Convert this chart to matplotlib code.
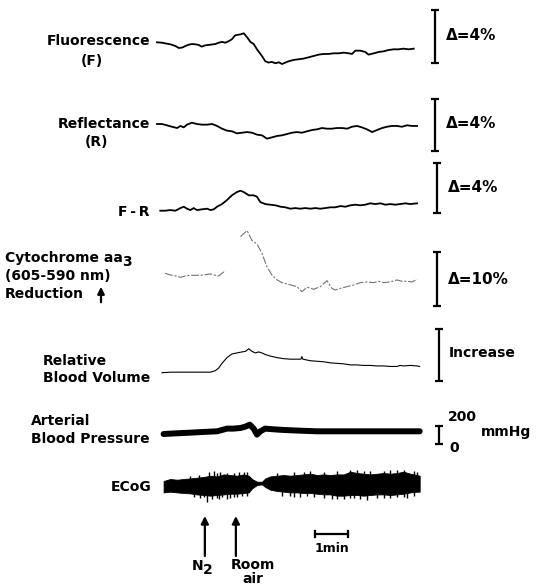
import numpy as np
import matplotlib
matplotlib.use("Agg")
import matplotlib.pyplot as plt
from matplotlib.transforms import blended_transform_factory

# -------------------- data (time in minutes from start of recording) --------------------
n2_time = 1.45
room_air_time = 2.39

# Fluorescence (F), % change
fluo_t = [0.00, 0.15, 0.25, 0.40, 0.56, 0.66, 0.76, 0.86, 0.96, 1.06, 1.16, 1.26, 1.36, 1.46,
          1.62, 1.77, 1.87, 1.97, 2.07, 2.17, 2.27, 2.37, 2.53, 2.63, 2.73, 2.83, 2.93, 3.03,
          3.18, 3.28, 3.38, 3.48, 3.59, 3.69, 3.79, 3.89, 3.99, 4.14, 4.29, 4.44, 4.60, 4.75,
          4.90, 5.05, 5.20, 5.35, 5.51, 5.66, 5.81, 5.91, 6.01, 6.16, 6.31, 6.41, 6.57, 6.72,
          6.87, 7.02, 7.17, 7.32, 7.47, 7.63, 7.78]
fluo_v = [0.00, -0.03, -0.08, -0.15, -0.28, -0.43, -0.40, -0.28, -0.18, -0.13, -0.15, -0.20,
          -0.33, -0.23, -0.18, -0.13, -0.03, 0.03, -0.03, 0.08, 0.23, 0.53, 0.60, 0.68, 0.38,
          0.03, -0.13, -0.53, -1.03, -1.43, -1.53, -1.48, -1.58, -1.51, -1.64, -1.53, -1.43,
          -1.33, -1.28, -1.23, -1.13, -1.03, -0.93, -0.88, -0.88, -0.83, -0.83, -0.78, -0.83,
          -0.88, -0.63, -0.63, -0.73, -0.93, -0.83, -0.73, -0.68, -0.58, -0.53, -0.53, -0.48,
          -0.53, -0.48]

# Reflectance (R), % change
refl_t = [0.00, 0.15, 0.30, 0.45, 0.61, 0.71, 0.81, 0.91, 1.06, 1.21, 1.36, 1.52, 1.67, 1.82,
          1.97, 2.12, 2.27, 2.42, 2.58, 2.73, 2.88, 3.03, 3.18, 3.33, 3.48, 3.64, 3.79, 3.94,
          4.09, 4.24, 4.39, 4.55, 4.70, 4.85, 5.00, 5.15, 5.30, 5.45, 5.61, 5.76, 5.91, 6.06,
          6.21, 6.36, 6.52, 6.67, 6.82, 6.97, 7.12, 7.27, 7.42, 7.58, 7.73, 7.88]
refl_v = [0.00, 0.00, -0.10, -0.21, -0.31, -0.15, -0.26, -0.05, 0.10, 0.00, -0.05, -0.05,
          0.00, -0.15, -0.36, -0.51, -0.56, -0.72, -0.67, -0.62, -0.67, -0.82, -0.87, -1.13,
          -1.03, -0.92, -0.87, -0.77, -0.67, -0.62, -0.67, -0.56, -0.46, -0.41, -0.31, -0.36,
          -0.36, -0.31, -0.31, -0.36, -0.21, -0.15, -0.26, -0.41, -0.62, -0.46, -0.31, -0.21,
          -0.15, -0.15, -0.21, -0.10, -0.15, -0.15]

# F - R, % change
fr_t = [0.10, 0.25, 0.40, 0.56, 0.71, 0.81, 0.91, 1.01, 1.11, 1.21, 1.36, 1.52, 1.62, 1.72,
        1.82, 1.97, 2.12, 2.27, 2.42, 2.53, 2.63, 2.78, 2.93, 3.03, 3.13, 3.28, 3.43, 3.59,
        3.74, 3.89, 4.04, 4.19, 4.34, 4.49, 4.65, 4.80, 4.95, 5.10, 5.25, 5.40, 5.56, 5.71,
        5.86, 6.01, 6.16, 6.31, 6.46, 6.62, 6.77, 6.92, 7.07, 7.22, 7.37, 7.53, 7.68, 7.88]
fr_v = [0.00, 0.00, 0.05, 0.00, 0.21, 0.32, 0.16, 0.05, 0.21, 0.05, 0.11, 0.16, 0.05, 0.11,
        0.32, 0.53, 0.85, 1.23, 1.49, 1.60, 1.49, 1.23, 1.23, 1.12, 0.69, 0.53, 0.48, 0.43,
        0.32, 0.27, 0.16, 0.21, 0.16, 0.21, 0.16, 0.21, 0.16, 0.21, 0.27, 0.27, 0.37, 0.32,
        0.43, 0.48, 0.43, 0.48, 0.59, 0.53, 0.59, 0.48, 0.53, 0.48, 0.53, 0.59, 0.53, 0.59]

# Cytochrome aa3 (605-590 nm), % reduction (nan = pen lifted)
cyt_t = [0.25, 0.40, 0.56, 0.71, 0.86, 1.01, 1.16, 1.31, 1.46, 1.62, 1.77, 1.87, 1.97, 2.07,
         2.30, 2.53, 2.73, 2.88, 3.03, 3.18, 3.33, 3.48, 3.64, 3.79, 3.94, 4.09, 4.24, 4.39,
         4.55, 4.75, 4.95, 5.15, 5.30, 5.40, 5.56, 5.76, 5.96, 6.16, 6.36, 6.57, 6.72, 6.87,
         7.07, 7.27, 7.42, 7.58, 7.73, 7.88]
cyt_v = [0.00, -0.31, -0.49, -0.74, -0.49, -0.37, -0.37, -0.37, -0.25, -0.12, -0.37, -0.49,
         0.00, 0.49, np.nan, 6.79, 7.90, 6.05, 5.43, 3.70, 1.23, -0.31, -1.23, -1.73, -1.98,
         -2.22, -2.47, -3.40, -2.59, -2.96, -2.47, -1.36, -2.78, -3.09, -2.78, -2.47, -2.16,
         -1.73, -1.60, -1.73, -1.48, -1.73, -1.60, -1.23, -1.48, -1.48, -1.60, -1.11]

# Relative blood volume (arbitrary units, 1 = scale bar)
bv_t = [0.15, 0.40, 0.71, 1.01, 1.31, 1.62, 1.77, 1.87, 1.97, 2.12, 2.27, 2.42, 2.58, 2.68,
        2.78, 2.88, 2.98, 3.08, 3.18, 3.28, 3.43, 3.64, 3.84, 4.04, 4.24, 4.36, 4.39, 4.42,
        4.65, 4.85, 5.05, 5.25, 5.45, 5.66, 5.86, 6.06, 6.26, 6.46, 6.67, 6.87, 7.07, 7.27,
        7.37, 7.47, 7.68, 7.88, 7.96]
bv_v = [0.00, 0.01, 0.01, 0.01, 0.01, 0.01, 0.04, 0.09, 0.18, 0.29, 0.36, 0.38, 0.40, 0.41,
        0.46, 0.41, 0.38, 0.40, 0.38, 0.35, 0.32, 0.29, 0.27, 0.26, 0.26, 0.26, 0.31, 0.26,
        0.23, 0.22, 0.21, 0.19, 0.18, 0.17, 0.15, 0.15, 0.14, 0.14, 0.13, 0.13, 0.12, 0.12,
        0.14, 0.13, 0.14, 0.13, 0.12]

# Arterial blood pressure, mmHg (read against the 0-200 bar)
bp_t = [0.20, 0.61, 1.01, 1.41, 1.82, 1.97, 2.12, 2.32, 2.53, 2.68, 2.81, 2.93, 3.03, 3.13,
        3.28, 3.54, 3.84, 4.34, 4.85, 5.35, 5.86, 6.36, 6.87, 7.37, 7.96]
bp_v = [111, 119, 126, 134, 141, 156, 171, 171, 178, 193, 215, 171, 104, 141,
        171, 163, 156, 148, 141, 141, 141, 141, 141, 141, 141]

# ECoG envelope (upper / lower) and isolated spikes, arbitrary units
ecog_t = [0.20, 0.40, 0.61, 0.81, 1.01, 1.21, 1.41, 1.62, 1.82, 2.02, 2.22, 2.42, 2.63, 2.78,
          2.88, 3.03, 3.18, 3.28, 3.43, 3.64, 3.84, 4.04, 4.24, 4.44, 4.65, 4.85, 5.05, 5.25,
          5.45, 5.66, 5.86, 6.06, 6.26, 6.46, 6.67, 6.87, 7.07, 7.27, 7.47, 7.68, 7.88, 7.96]
ecog_hi = [5.7, 7.7, 7.0, 7.7, 8.3, 9.0, 9.7, 11.0, 10.3, 12.3, 11.7, 11.0, 12.3, 11.0,
           7.7, 5.0, 5.0, 8.3, 10.3, 11.0, 11.7, 11.0, 11.7, 12.3, 13.0, 11.7, 12.3, 11.7,
           12.3, 12.3, 15.0, 13.7, 13.0, 12.3, 13.0, 13.7, 13.0, 13.7, 15.0, 13.0, 11.7, 11.0]
ecog_lo = [-5.7, -5.0, -5.7, -6.3, -6.7, -7.7, -8.3, -9.0, -8.3, -7.7, -7.0, -7.0, -6.3, -5.7,
           -1.7, 1.7, 2.3, -0.3, -3.0, -4.3, -5.0, -5.7, -5.7, -6.3, -6.3, -7.0, -7.7, -7.7,
           -9.0, -9.0, -8.3, -8.3, -9.0, -8.3, -7.7, -7.7, -8.3, -7.7, -7.0, -5.7, -5.0, -5.0]
spike_t = [1.11, 1.31, 1.41, 1.52, 1.67, 1.82, 1.87, 1.97, 2.12, 2.22, 2.32, 2.42, 2.58, 2.73,
           3.79, 4.04, 4.14, 4.34, 4.55, 4.75, 5.05, 5.30, 5.45, 5.66, 5.86, 5.96, 6.16, 6.36,
           6.67, 6.87, 7.07, 7.27, 7.47, 7.58, 7.78,
           1.01, 1.26, 1.57, 1.72, 1.82, 1.92, 2.12, 2.32, 2.47, 2.63, 2.73, 3.64, 4.14, 4.44,
           4.65, 5.05, 5.45, 5.86, 6.06, 6.26, 6.46, 6.87, 7.07, 7.27, 7.47, 7.78, 7.88]
spike_v = [-10.0, -11.7, -10.5, -15.0, -12.3, -11.7, -12.0, -10.3, -12.3, -11.0, -10.3, -10.0,
           -9.7, -9.7, -9.0, -9.5, -10.3, -10.0, -9.0, -10.5, -11.7, -12.3, -12.0, -12.3,
           -11.5, -11.7, -12.0, -13.0, -11.0, -11.0, -11.5, -10.3, -10.5, -11.0, -9.0,
           11.0, 12.0, 15.0, 15.7, 14.0, 14.5, 13.7, 14.0, 15.0, 15.0, 15.0, 14.0, 15.0, 15.0,
           15.7, 15.0, 15.5, 17.0, 16.5, 15.7, 15.5, 16.0, 16.3, 16.5, 16.3, 15.7, 14.5]

# -------------------- layout (pixels of the 536x585 page) --------------------
W, H = 536, 585
T0_PX = 157          # page x of t = 0
PX_PER_MIN = 33      # 1 min scale bar length

plt.rcParams['font.family'] = ['DejaVu Sans']
plt.rcParams['font.weight'] = 'bold'
plt.rcParams['font.size'] = 10

fig = plt.figure(figsize=(W / 100, H / 100), dpi=100)
fig.patch.set_facecolor('white')


def fx(px):
    return px / W


def fy(py):
    return 1 - py / H


def trace_axes(base_px, px_per_unit):
    # full-page transparent axes: value 0 sits at base_px, px_per_unit pixels per unit
    ax = fig.add_axes([0, 0, 1, 1])
    ax.set_xlim(-T0_PX / PX_PER_MIN, (W - T0_PX) / PX_PER_MIN)
    ax.set_ylim((base_px - H) / px_per_unit, base_px / px_per_unit)
    ax.axis('off')
    ax.patch.set_alpha(0)
    return ax


def scale_bar(ax, t, lo, hi, cap=0.13):
    kw = dict(color='black', lw=1.6, solid_capstyle='butt')
    ax.plot([t, t], [lo, hi], **kw)
    ax.plot([t - cap, t + cap], [lo, lo], **kw)
    ax.plot([t - cap, t + cap], [hi, hi], **kw)


def label(px, py, s, ha='left', size=10):
    fig.text(fx(px), fy(py), s, ha=ha, va='center', fontsize=size, fontweight='bold')


# -------------------- traces --------------------
ax_f = trace_axes(42.3, 13.25)
ax_f.plot(fluo_t, fluo_v, color='black', lw=1.3)
scale_bar(ax_f, 8.42, -1.56, 2.44)

ax_r = trace_axes(124, 13)
ax_r.plot(refl_t, refl_v, color='black', lw=1.3)
scale_bar(ax_r, 8.42, -2.08, 1.92)

ax_fr = trace_axes(210.7, 12.5)
ax_fr.plot(fr_t, fr_v, color='black', lw=1.3)
scale_bar(ax_fr, 8.48, -0.18, 3.82)

ax_c = trace_axes(273.3, 5.4)
ax_c.plot(cyt_t, cyt_v, color='0.45', lw=0.8, linestyle=(0, (7, 1.5, 2, 1.5)))
scale_bar(ax_c, 8.48, -6.06, 3.94)

ax_bv = trace_axes(372.7, 52)
ax_bv.plot(bv_t, bv_v, color='black', lw=0.8)
scale_bar(ax_bv, 8.55, -0.16, 0.84)

ax_bp = trace_axes(444, 0.09)
ax_bp.plot(bp_t, bp_v, color='black', lw=4.3, solid_capstyle='round')
scale_bar(ax_bp, 8.55, 0, 200, cap=0.13)

ax_e = trace_axes(486.7, 1)
ax_e.fill_between(ecog_t, ecog_lo, ecog_hi, color='black', lw=0.6)
ax_e.vlines(spike_t, 0, spike_v, color='black', lw=1.0)

# event arrows and time scale
trans = blended_transform_factory(ax_e.transData, ax_e.transAxes)
for t in (n2_time, room_air_time):
    ax_e.annotate('', xy=(t, fy(516)), xytext=(t, fy(556)), xycoords=trans, textcoords=trans,
                  arrowprops=dict(arrowstyle='-|>', color='black', lw=1.6, mutation_scale=11,
                                  shrinkA=0, shrinkB=0))
ax_e.plot([4.79, 5.79], [fy(534)] * 2, color='black', lw=1.6, transform=trans)
for t in (4.79, 5.79):
    ax_e.plot([t, t], [fy(531), fy(537)], color='black', lw=1.6, transform=trans)

# -------------------- text --------------------
label(150, 41, 'Fluorescence', ha='right')
label(92, 61, '(F)', ha='center')
label(150, 124, 'Reflectance', ha='right')
label(97, 142, '(R)', ha='center')
label(149, 212, 'F\u2009-\u2009R', ha='right')
label(5, 258, 'Cytochrome aa')
label(122, 262, '3')
label(5, 276, '(605-590 nm)')
label(5, 294, 'Reduction')
fig.add_artist(matplotlib.patches.FancyArrowPatch(
    (fx(101), fy(305)), (fx(101), fy(284)), transform=fig.transFigure,
    arrowstyle='-|>', mutation_scale=10, color='black', lw=1.6))
label(43, 361, 'Relative')
label(43, 378, 'Blood Volume')
label(31, 421, 'Arterial')
label(31, 439, 'Blood Pressure')
label(151, 487, 'ECoG', ha='right')

label(446, 36, '\u0394=4%', size=11)
label(446, 124, '\u0394=4%', size=11)
label(448, 187, '\u0394=4%', size=11)
label(448, 279, '\u0394=10%', size=11)
label(449, 353, 'Increase')
label(448, 417, '200')
label(481, 432, 'mmHg')
label(449, 448, '0')

label(203, 566, 'N', ha='right')
label(203, 570, '2')
fig.text(fx(253), fy(558), 'Room\nair', ha='center', va='top', fontsize=10,
         fontweight='bold', linespacing=1.0)
label(332, 549, '1min', ha='center', size=9)

fig.savefig('out.png', dpi=100, facecolor='white')
